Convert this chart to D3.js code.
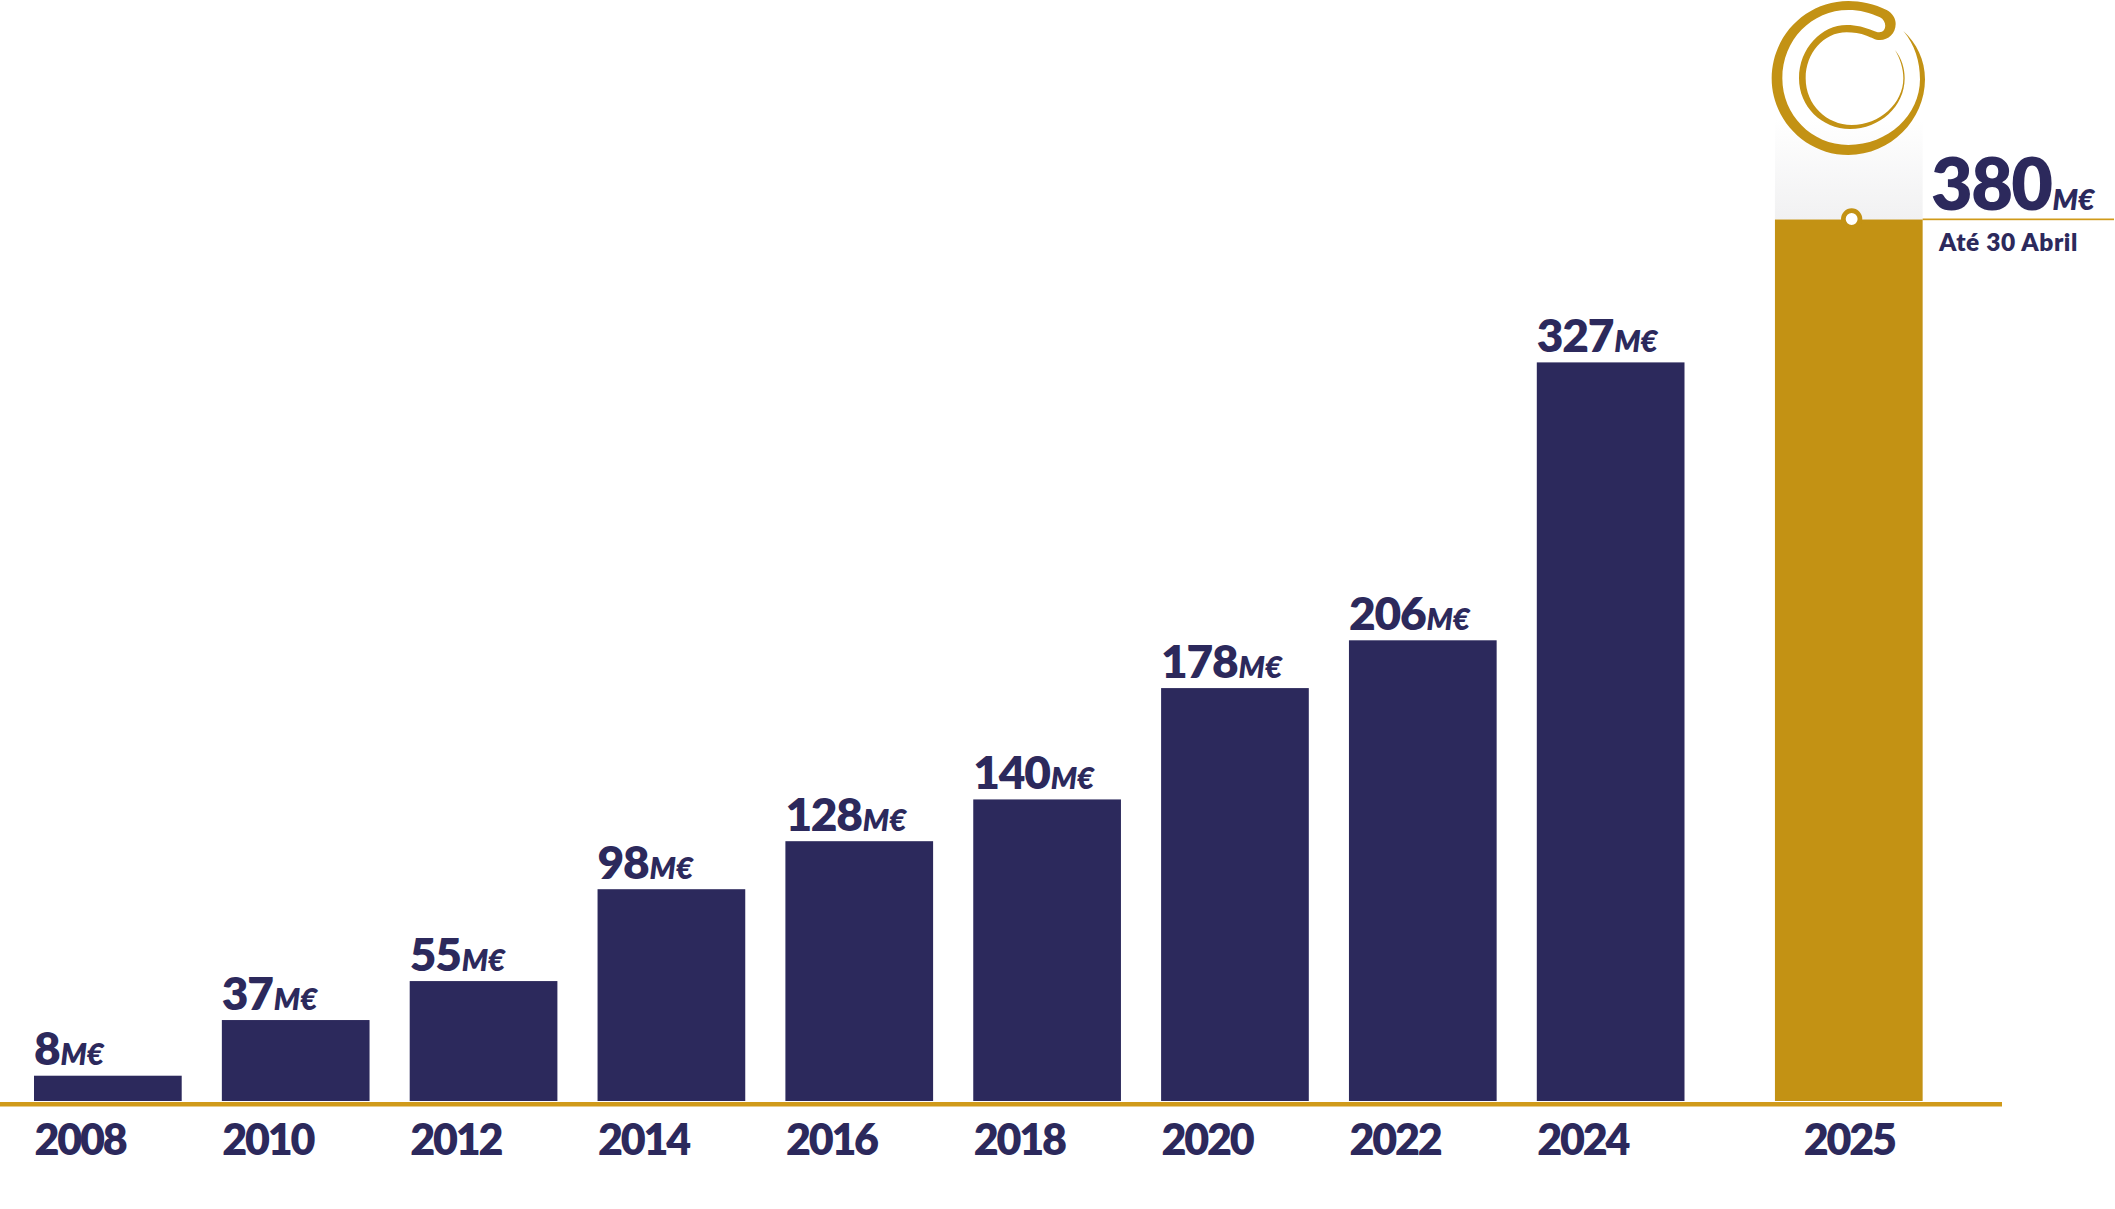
<!DOCTYPE html>
<html><head><meta charset="utf-8">
<script src="https://cdn.jsdelivr.net/npm/d3@7"></script>
<style>html,body{margin:0;padding:0;background:#fff}svg{display:block}
text{font-family:Lato,sans-serif;fill:#2c295c}</style></head>
<body><svg id="c" width="2115" height="1209"></svg>
<script>
const years = ["2008","2010","2012","2014","2016","2018","2020","2022","2024","2025"];
const labelValues = [8,37,55,98,128,140,178,206,327,380];
// bar lengths as measured in the picture (the source is not strictly proportional to its labels)
const barValues = [10.9,34.9,51.7,91.3,112,130,178,198.6,318.4,380];
const unit = "M€";
const note = "Até 30 Abril";
const navy = "#2c295c", gold = "#c39214", axisGold = "#d09a1a";
const W = 2115, H = 1209, baseY = 1101, topY = 219.5, highlightGap = 50.3;

const svg = d3.select("#c");
const x0 = d3.scaleBand().domain(years).range([34,1872.35]).paddingInner(40.15/187.85).paddingOuter(0);
const x = d => x0(d) + (d === "2025" ? highlightGap : 0);
const y = d3.scaleLinear().domain([0,380]).range([baseY,topY]);

const rows = years.map((year,i)=>({year,label:labelValues[i],value:barValues[i]}));
const last = rows[rows.length-1];

const defs = svg.append("defs");
const grad = defs.append("linearGradient").attr("id","fade").attr("x1",0).attr("x2",0).attr("y1",0).attr("y2",1);
grad.append("stop").attr("offset",0).attr("stop-color","#ffffff");
grad.append("stop").attr("offset",1).attr("stop-color","#f1f1f2");
svg.append("rect").attr("x",x(last.year)).attr("width",x0.bandwidth())
  .attr("y",y(last.value)-100).attr("height",100).attr("fill","url(#fade)");

// bars
svg.append("g").selectAll("rect").data(rows).join("rect")
  .attr("x",d=>x(d.year)).attr("width",x0.bandwidth())
  .attr("y",d=>y(d.value)).attr("height",d=>y(0)-y(d.value))
  .attr("fill",d=>d.year==="2025"?gold:navy);

// axis line
svg.append("rect").attr("x",0).attr("y",baseY+1).attr("width",2002).attr("height",4.5).attr("fill",axisGold);

// year labels
const ax = svg.append("g").attr("transform",`translate(0,${baseY})`).call(
  d3.axisBottom(d3.scaleOrdinal().domain(years).range(years.map(x))).tickSize(0).tickPadding(0)
);
ax.select(".domain").remove();
ax.selectAll("text").attr("y",0).attr("dy",null)
  .attr("x",d=>d==="2025"?x0.bandwidth()/2:0)
  .attr("text-anchor",d=>d==="2025"?"middle":"start")
  .attr("transform","translate(0,54)")
  .style("font-family","Lato,sans-serif").style("font-size","43px").style("font-weight",800)
  .style("letter-spacing","-2.2px").style("fill",navy);

// value labels
const vl = svg.append("g").selectAll("text").data(rows.slice(0,-1)).join("text")
  .attr("x",d=>x(d.year)).attr("y",d=>y(d.value)-10.5)
  .style("font-size","46px").style("font-weight",800);
vl.append("tspan").text(d=>d.label).style("letter-spacing","-1.2px");
vl.append("tspan").text(unit).attr("dx",1).style("font-size","29.5px").style("font-style","italic").style("font-weight",800);

// highlight line + marker
svg.append("rect").attr("x",x(last.year)+x0.bandwidth()).attr("y",y(last.value)-1).attr("width",W-1-x(last.year)-x0.bandwidth()).attr("height",1.7).attr("fill",axisGold);
svg.append("circle").attr("cx",x(last.year)+76.7).attr("cy",y(last.value)-0.5).attr("r",8.3).attr("fill","#fff").attr("stroke",gold).attr("stroke-width",4.7);

// highlight label
const hl = svg.append("text").attr("x",1931).attr("y",210).style("font-size","72px").style("font-weight",800);
hl.append("tspan").text(last.label).style("letter-spacing","-1.6px");
hl.append("tspan").text(unit).attr("dx",1).style("font-size","28.5px").style("font-style","italic").style("font-weight",800);
svg.append("text").attr("x",1939).attr("y",251).text(note).style("font-size","24.5px").style("font-weight",800).style("letter-spacing","0.6px");

// logo
svg.append("path").attr("transform","translate(1700,0) scale(0.33333)").attr("fill",gold).attr("d",
"M610,93 C650,130 675,180 675,238 C675,360 572,465 445,465 C320,465 215,362 215,235 C215,108 318,3 445,3 C480,3 525,12 560,30 C578,40 587,55 587,72 C587,100 565,120 540,120 C525,120 515,112 500,107 C480,100 460,97 440,97 C370,97 317,160 317,235 C317,315 380,375 455,375 C540,375 610,310 610,235 C610,205 600,175 585,150 C605,175 614,205 614,235 C614,320 540,387 450,387 C365,387 297,320 297,235 C297,145 365,75 440,75 C470,75 495,82 520,92 C530,97 545,100 552,90 C560,78 555,60 540,52 C510,38 480,30 445,30 C335,30 247,120 247,235 C247,345 335,435 445,435 C565,435 660,345 660,238 C660,185 645,135 610,93 Z");
</script></body></html>
